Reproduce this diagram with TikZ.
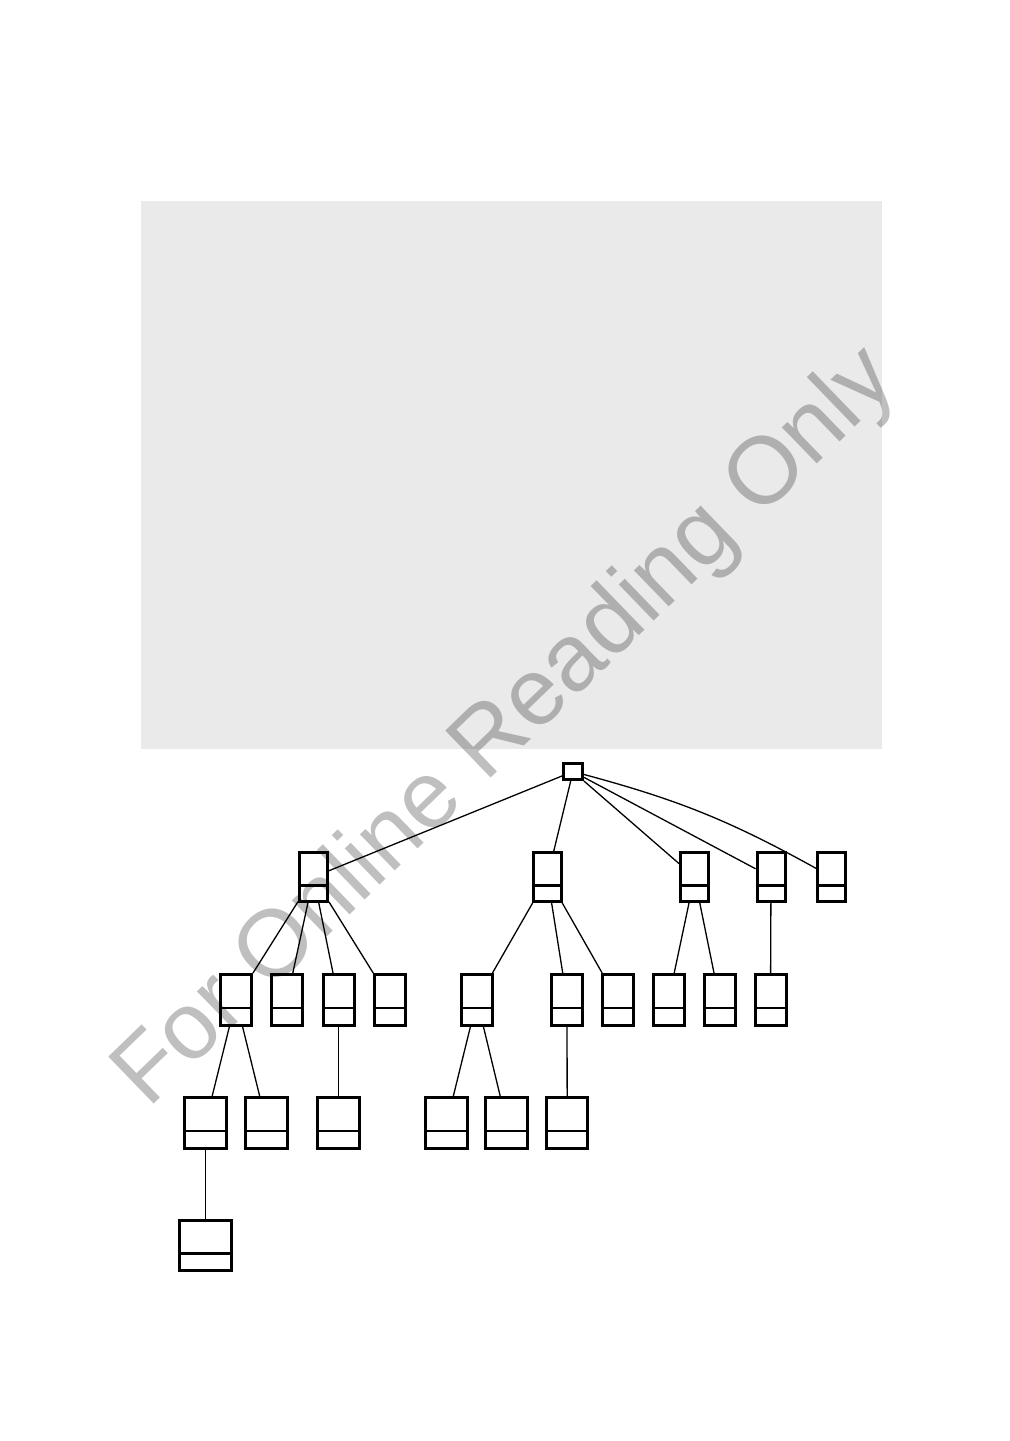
\documentclass[tikz,border=0pt]{standalone}
\usepackage{fontspec}
\newfontfamily\wmfont{Liberation Sans}
\definecolor{panelgray}{RGB}{234,234,234}
\tikzset{
  rec/.style n args={3}{draw=black, line width=1.5pt, inner sep=0pt, fill=white,
    minimum width=#1, minimum height=#2,
    path picture={\draw[line width=1.3pt] ([yshift=#3]path picture bounding box.south west) -- ([yshift=#3]path picture bounding box.south east);}},
  lvone/.style={rec={14pt}{24.5pt}{8pt}},
  lvtwo/.style={rec={15.5pt}{25.5pt}{8.75pt}},
  lvthree/.style={rec={20.75pt}{25.5pt}{8.75pt}},
  lvfour/.style={rec={25.7pt}{25pt}{8.5pt}},
  rootbox/.style={draw=black, line width=1.5pt, inner sep=0pt, fill=white, minimum width=9.5pt, minimum height=8pt},
  edge/.style={draw=black, line width=0.65pt}
}
\begin{document}
\begin{tikzpicture}[x=0.5pt,y=-0.5pt]
\useasboundingbox (0,0) rectangle (1009,1441);
\fill[panelgray] (141,201) rectangle (882,749);

% nodes
\node[rootbox] (root) at (573,771.5) {};
\node[lvone] (A) at (313.5,877) {};
\node[lvone] (B) at (547.5,877) {};
\node[lvone] (C) at (694.5,877) {};
\node[lvone] (D) at (771,877) {};
\node[lvone] (E) at (831.5,877) {};

\node[lvtwo] (Ba) at (236,1000) {};
\node[lvtwo] (Bb) at (287,1000) {};
\node[lvtwo] (Bc) at (338.5,1000) {};
\node[lvtwo] (Bd) at (390,1000) {};
\node[lvtwo] (Be) at (477,1000) {};
\node[lvtwo] (Bf) at (567,1000) {};
\node[lvtwo] (Bg) at (617.5,1000) {};
\node[lvtwo] (Bh) at (668.5,1000) {};
\node[lvtwo] (Bi) at (719.5,1000) {};
\node[lvtwo] (Bj) at (770.5,1000) {};

\node[lvthree] (Ca) at (205.5,1123) {};
\node[lvthree] (Cb) at (266.3,1123) {};
\node[lvthree] (Cc) at (338.5,1123) {};
\node[lvthree] (Cd) at (446.7,1123) {};
\node[lvthree] (Ce) at (506.7,1123) {};
\node[lvthree] (Cf) at (567.2,1123) {};

\node[lvfour] (Da) at (205.5,1245.5) {};

% connectors
\draw[edge] (root) -- (A);
\draw[edge] (root) -- (B);
\draw[edge] (root) -- (C);
\draw[edge] (root) -- (D);
\draw[edge] (root) to[bend left=7] (E);

\draw[edge] (A) -- (Ba);
\draw[edge] (A) -- (Bb);
\draw[edge] (A) -- (Bc);
\draw[edge] (A) -- (Bd);
\draw[edge] (B) -- (Be);
\draw[edge] (B) -- (Bf);
\draw[edge] (B) -- (Bg);
\draw[edge] (C) -- (Bh);
\draw[edge] (C) -- (Bi);
\draw[edge] (D) -- (Bj);

\draw[edge] (Ba) -- (Ca);
\draw[edge] (Ba) -- (Cb);
\draw[edge] (Bc) -- (Cc);
\draw[edge] (Be) -- (Cd);
\draw[edge] (Be) -- (Ce);
\draw[edge] (Bf) -- (Cf);
\draw[edge] (Ca) -- (Da);

% watermark
\node[rotate=44, text=black, text opacity=0.25, inner sep=0pt,
  font=\wmfont\fontsize{47.5pt}{50pt}\selectfont] (wm) at (507,729) {For Online Reading Only};
\end{tikzpicture}
\end{document}
